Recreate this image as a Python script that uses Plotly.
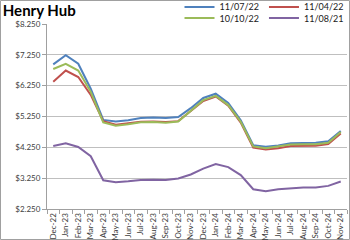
import plotly.graph_objects as go

months = ["Dec-22","Jan-23","Feb-23","Mar-23","Apr-23","May-23","Jun-23","Jul-23","Aug-23","Sep-23","Oct-23","Nov-23",
          "Dec-23","Jan-24","Feb-24","Mar-24","Apr-24","May-24","Jun-24","Jul-24","Aug-24","Sep-24","Oct-24","Nov-24"]

s_110722 = [6.94,7.24,6.96,6.15,5.14,5.09,5.13,5.20,5.22,5.20,5.23,5.52,5.85,5.99,5.69,5.13,4.32,4.27,4.31,4.38,4.39,4.40,4.45,4.78]
s_110422 = [6.38,6.74,6.53,5.95,5.10,4.98,5.03,5.08,5.09,5.07,5.10,5.43,5.75,5.90,5.60,5.05,4.24,4.18,4.22,4.29,4.30,4.30,4.36,4.70]
s_101022 = [6.79,6.96,6.74,6.05,5.06,4.95,5.00,5.06,5.07,5.05,5.09,5.45,5.78,5.92,5.62,5.08,4.28,4.22,4.27,4.34,4.35,4.35,4.40,4.75]
s_110821 = [4.29,4.38,4.26,3.96,3.18,3.12,3.15,3.19,3.20,3.19,3.24,3.37,3.56,3.71,3.61,3.35,2.89,2.83,2.89,2.93,2.95,2.95,3.00,3.14]

series = [
    ("11/07/22", s_110722, "#4F81BD", "legend"),
    ("11/04/22", s_110422, "#C0504D", "legend"),
    ("10/10/22", s_101022, "#9BBB59", "legend2"),
    ("11/08/21", s_110821, "#8064A2", "legend2"),
]

fig = go.Figure()
for name, vals, col, lg in series:
    fig.add_trace(go.Scatter(x=months, y=vals, name=name, mode="lines",
                             line=dict(color=col, width=2), legend=lg))

font = "Lato, Carlito, Arial, sans-serif"
fig.update_layout(
    width=350, height=240,
    margin=dict(l=47, r=3, t=24, b=31, autoexpand=False),
    paper_bgcolor="white", plot_bgcolor="white",
    font=dict(family=font, size=8, color="#404040"),
    title=dict(text="<b>Henry Hub</b>", x=0.008, xanchor="left", y=0.955, yanchor="middle",
               font=dict(family=font, size=15, color="black")),
    showlegend=True,
    legend=dict(orientation="h", x=1.005, xanchor="right", y=1.092, yanchor="middle",
                font=dict(size=9, color="#202020"), itemwidth=30, bgcolor="rgba(0,0,0,0)",
                traceorder="normal"),
    legend2=dict(orientation="h", x=1.005, xanchor="right", y=1.032, yanchor="middle",
                 font=dict(size=9, color="#202020"), itemwidth=30, bgcolor="rgba(0,0,0,0)",
                 traceorder="normal"),
)
fig.update_xaxes(type="category", range=[-0.5, 23.5], showgrid=False, showline=True,
                 linecolor="#A0A0A0", linewidth=1, ticks="outside", ticklen=4, tickcolor="#A0A0A0",
                 tickson="boundaries", tickangle=-90, tickfont=dict(size=8, color="#404040"))
fig.update_yaxes(range=[2.25, 8.25], tick0=2.25, dtick=1, tickformat="$.3f", showgrid=True,
                 gridcolor="#BFBFBF", gridwidth=1, showline=True, linecolor="#A0A0A0",
                 ticks="outside", ticklen=4, tickcolor="#A0A0A0", zeroline=False,
                 tickfont=dict(size=8, color="#404040"))
fig.add_shape(type="rect", xref="paper", yref="paper",
              x0=-46.5/300, x1=1+2.5/300, y0=-30.5/185, y1=1+23.5/185,
              line=dict(color="#A0A0A0", width=1), fillcolor="rgba(0,0,0,0)", layer="below")
fig.write_html("out.html")
